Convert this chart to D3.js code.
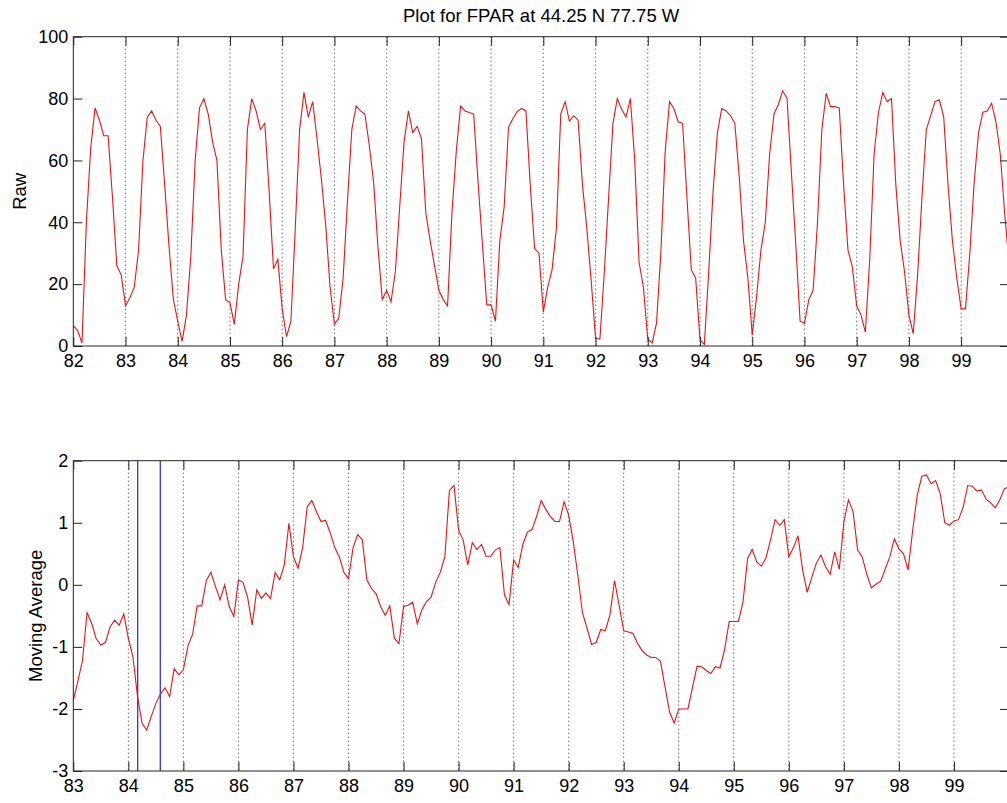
<!DOCTYPE html>
<html>
<head>
<meta charset="utf-8">
<script src="https://cdn.jsdelivr.net/npm/d3@7"></script>
<style>
  body { margin: 0; background: #fff; }
  text { font-family: "Liberation Sans", Arial, Helvetica, sans-serif; fill: #000; }
</style>
</head>
<body>
<svg id="chart" width="1007" height="803"></svg>
<script>
// monthly values, one row per year (82 .. 99)
const rawFpar = [
  6.5, 5, 1, 40, 64, 77, 73, 68, 68, 48, 26, 23,
  13, 15.6, 19, 31, 60, 74, 76, 73, 71, 52, 32, 15,
  8, 1.5, 10, 29, 60, 77, 80, 75, 66, 60, 31, 15,
  14, 7, 20, 29, 70, 80, 76, 70, 72, 50, 25, 28,
  12, 3, 8, 38, 70, 82, 74, 79, 67, 54, 39, 19,
  7, 9, 22, 47, 70, 77.6, 76, 75, 65, 53, 32, 15,
  18, 14.3, 24, 45, 66, 76, 69, 71, 67, 43, 34, 26,
  18, 15, 13, 43, 63, 77.6, 76, 75.5, 75, 53, 33, 13.3,
  13.3, 8, 34, 45, 70.7, 73.5, 75.8, 76.8, 76, 52, 31.5, 30,
  11, 19, 24.6, 38, 75, 79, 72.7, 74.4, 73, 52, 38, 21,
  2.5, 2.2, 23.5, 48, 72, 80, 76.5, 74, 80, 60, 27, 19,
  2.2, 1, 7.3, 30, 63, 79, 76.8, 72.5, 72, 48, 24.6, 22,
  2, 0.5, 24, 50, 69, 76.8, 76, 74.5, 72, 55, 34, 22,
  3.5, 16, 31, 40, 62, 75, 78, 82.5, 80, 56, 33, 8,
  7.3, 15, 18, 40, 70, 81.7, 77.4, 77.4, 77, 52, 31, 25.6,
  13, 10, 4.5, 28, 62, 75.5, 82, 79, 80, 52, 34, 24,
  10, 4, 23, 48, 70, 74.5, 79, 79.6, 74, 52, 34, 22,
  12, 12, 30, 53, 69, 75.6, 76, 78.5, 72.5, 62, 43, 27
];
const rawStart = 82;
const rawTicks = d3.range(82, 100);
const rawYTicks = [0, 20, 40, 60, 80, 100];

// monthly moving average, one row per year (83 .. 99), plus Jan 100
const movingAvg = [
  -1.86, -1.55, -1.22, -0.45, -0.62, -0.87, -0.97, -0.93, -0.68, -0.57, -0.65, -0.47,
  -0.86, -1.16, -1.8, -2.23, -2.34, -2.12, -1.91, -1.76, -1.66, -1.8, -1.35, -1.45,
  -1.37, -0.98, -0.8, -0.34, -0.34, 0.07, 0.2, -0.03, -0.24, 0, -0.35, -0.51,
  0.08, 0.04, -0.2, -0.65, -0.08, -0.22, -0.13, -0.22, 0.2, 0.08, 0.32, 0.99,
  0.45, 0.27, 0.6, 1.26, 1.36, 1.18, 1.02, 1.04, 0.84, 0.6, 0.45, 0.2,
  0.1, 0.6, 0.81, 0.73, 0.08, -0.06, -0.14, -0.35, -0.49, -0.34, -0.86, -0.95,
  -0.35, -0.33, -0.28, -0.63, -0.4, -0.27, -0.2, 0.04, 0.2, 0.45, 1.52, 1.6,
  0.88, 0.72, 0.32, 0.68, 0.57, 0.65, 0.46, 0.46, 0.56, 0.6, -0.16, -0.32,
  0.4, 0.28, 0.65, 0.85, 0.89, 1.1, 1.36, 1.22, 1.1, 1.02, 1.02, 1.34,
  1.12, 0.7, 0.15, -0.45, -0.7, -0.96, -0.93, -0.72, -0.74, -0.48, 0.07, -0.33,
  -0.74, -0.76, -0.78, -0.94, -1.06, -1.13, -1.17, -1.17, -1.23, -1.64, -2.05, -2.23,
  -2.0, -2.0, -2.0, -1.65, -1.31, -1.32, -1.38, -1.43, -1.32, -1.34, -1.04, -0.59,
  -0.59, -0.59, -0.28, 0.42, 0.57, 0.37, 0.3, 0.43, 0.72, 1.05, 0.96, 1.05,
  0.45, 0.6, 0.79, 0.24, -0.12, 0.12, 0.35, 0.48, 0.29, 0.17, 0.53, 0.25,
  1.02, 1.37, 1.18, 0.56, 0.45, 0.17, -0.05, 0.01, 0.06, 0.25, 0.45, 0.74,
  0.58, 0.5, 0.24, 0.88, 1.45, 1.75, 1.77, 1.63, 1.68, 1.47, 1.0, 0.96,
  1.03, 1.05, 1.25, 1.6, 1.59, 1.51, 1.53, 1.38, 1.32, 1.24, 1.37, 1.55,
  1.58
];
const maStart = 83;
const maTicks = d3.range(83, 100);
const maYTicks = [-3, -2, -1, 0, 1, 2];

// blue markers on the lower panel
const markerLines = [84.17, 84.58];

const titleText = "Plot for FPAR at 44.25 N 77.75 W";

const svg = d3.select("#chart");
const left = 73.3, right = 1009;
const tickLen = 9;
const fmt = d => String(d);

function panel(opts) {
  const g = svg.append("g");
  const x = d3.scaleLinear().domain(opts.xDomain).range([left, right]);
  const y = d3.scaleLinear().domain(opts.yDomain).range([opts.bottom, opts.top]);

  // dotted year grid
  g.selectAll("line.grid")
    .data(opts.xTicks.filter(t => t > opts.xDomain[0] && t < opts.xDomain[1]))
    .join("line")
    .attr("x1", d => x(d)).attr("x2", d => x(d))
    .attr("y1", opts.top).attr("y2", opts.bottom)
    .attr("stroke", "#333")
    .attr("stroke-width", 1)
    .attr("stroke-dasharray", "1,3");

  const line = d3.line().x(d => x(d.t)).y(d => y(d.v));
  const pts = opts.values.map((v, i) => ({ t: opts.start + i / 12, v: v }));

  if (opts.markers) {
    g.selectAll("line.marker")
      .data(opts.markers)
      .join("line")
      .attr("x1", d => x(d)).attr("x2", d => x(d))
      .attr("y1", opts.top).attr("y2", opts.bottom)
      .attr("stroke", "#2222dd")
      .attr("stroke-width", 1.2);
  }

  g.append("path")
    .datum(pts)
    .attr("d", line)
    .attr("fill", "none")
    .attr("stroke", "#e01818")
    .attr("stroke-width", 1.1);

  // axes: labelled bottom/left, tick-only top/right
  const styleAxis = sel => {
    sel.select(".domain").remove();
    sel.selectAll(".tick line").attr("stroke", "#222");
    sel.selectAll("text").style("font-size", "18px").style("font-family", "'Liberation Sans', Arial, sans-serif");
  };
  g.append("g").attr("transform", `translate(0,${opts.bottom})`)
    .call(d3.axisBottom(x).tickValues(opts.xTicks).tickFormat(fmt).tickSizeInner(-tickLen).tickSizeOuter(0).tickPadding(8))
    .call(styleAxis);
  g.append("g").attr("transform", `translate(0,${opts.top})`)
    .call(d3.axisTop(x).tickValues(opts.xTicks).tickFormat("").tickSizeInner(-tickLen).tickSizeOuter(0))
    .call(styleAxis);
  g.append("g").attr("transform", `translate(${left},0)`)
    .call(d3.axisLeft(y).tickValues(opts.yTicks).tickFormat(fmt).tickSizeInner(-tickLen).tickSizeOuter(0).tickPadding(5))
    .call(styleAxis);
  g.append("g").attr("transform", `translate(${right},0)`)
    .call(d3.axisRight(y).tickValues(opts.yTicks).tickFormat("").tickSizeInner(-tickLen).tickSizeOuter(0))
    .call(styleAxis);

  g.append("rect")
    .attr("x", left).attr("y", opts.top)
    .attr("width", right - left).attr("height", opts.bottom - opts.top)
    .attr("fill", "none")
    .attr("stroke", "#222")
    .attr("stroke-width", 1);

  g.append("text")
    .attr("transform", `translate(${opts.labelX},${(opts.top + opts.bottom) / 2}) rotate(-90)`)
    .attr("text-anchor", "middle")
    .style("font-size", "18.5px")
    .text(opts.label);
}

panel({
  values: rawFpar, start: rawStart,
  xDomain: [82, 82 + (rawFpar.length - 1) / 12], xTicks: rawTicks,
  yDomain: [0, 100], yTicks: rawYTicks,
  top: 36.7, bottom: 346,
  label: "Raw", labelX: 26
});

panel({
  values: movingAvg, start: maStart,
  xDomain: [83, 100], xTicks: maTicks,
  yDomain: [-3, 2], yTicks: maYTicks,
  top: 460.7, bottom: 771,
  markers: markerLines,
  label: "Moving Average", labelX: 42
});

svg.append("text")
  .attr("x", (left + right) / 2)
  .attr("y", 22)
  .attr("text-anchor", "middle")
  .style("font-size", "18.5px")
  .text(titleText);
</script>
</body>
</html>
